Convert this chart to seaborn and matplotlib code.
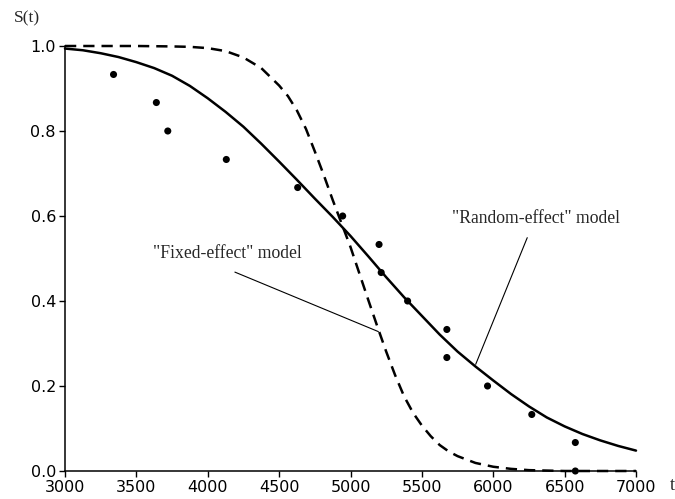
import matplotlib
matplotlib.use("Agg")
import matplotlib.pyplot as plt
import seaborn as sns
import pandas as pd

# Observed (empirical) survival points
obs_t = [3340, 3640, 3720, 4130, 4630, 4945, 5200, 5215, 5400, 5675, 5675, 5960, 6270, 6575, 6575]
obs_s = [0.933, 0.867, 0.800, 0.733, 0.667, 0.600, 0.533, 0.467, 0.400, 0.333, 0.267, 0.200, 0.133, 0.067, 0.000]

# "Random-effect" model curve
rand_t = [3000, 3125, 3250, 3375, 3500, 3625, 3750, 3875, 4000, 4125, 4250, 4375, 4500,
          4625, 4750, 4875, 5000, 5125, 5250, 5375, 5500, 5625, 5750, 5875, 6000,
          6125, 6250, 6375, 6500, 6625, 6750, 6875, 7000]
rand_s = [0.994, 0.990, 0.983, 0.974, 0.962, 0.948, 0.930, 0.906, 0.877, 0.845, 0.810, 0.770, 0.728,
          0.685, 0.641, 0.598, 0.553, 0.505, 0.456, 0.409, 0.365, 0.321, 0.281, 0.246, 0.213,
          0.181, 0.152, 0.126, 0.105, 0.087, 0.072, 0.059, 0.048]

# "Fixed-effect" model curve
fix_t = [3000, 3500, 3750, 3875, 4000, 4125, 4250, 4375, 4500, 4562, 4625, 4688, 4750, 4812,
         4875, 4938, 5000, 5062, 5125, 5188, 5250, 5312, 5375, 5438, 5500, 5562, 5625, 5688,
         5750, 5875, 6000, 6125, 6250, 6375, 6500, 7000]
fix_s = [1.000, 1.000, 0.999, 0.998, 0.995, 0.988, 0.973, 0.948, 0.907, 0.882, 0.848, 0.805, 0.752, 0.697,
         0.638, 0.582, 0.527, 0.465, 0.402, 0.340, 0.281, 0.226, 0.176, 0.137, 0.107, 0.082, 0.061, 0.046,
         0.035, 0.019, 0.010, 0.005, 0.002, 0.001, 0.000, 0.000]

x_ticks = [3000, 3500, 4000, 4500, 5000, 5500, 6000, 6500, 7000]
y_ticks = [0.0, 0.2, 0.4, 0.6, 0.8, 1.0]
y_tick_labels = ["0.0", "0.2", "0.4", "0.6", "0.8", "1.0"]

sns.set_style("ticks")
plt.rcParams["font.family"] = ["DejaVu Sans"]

fig = plt.figure(figsize=(6.75, 4.99), dpi=100)
ax = fig.add_axes([65 / 675, 28 / 499, (636 - 65) / 675, (471 - 46) / 499])

df_rand = pd.DataFrame({"t": rand_t, "S": rand_s})
df_fix = pd.DataFrame({"t": fix_t, "S": fix_s})
df_obs = pd.DataFrame({"t": obs_t, "S": obs_s})

sns.lineplot(data=df_fix, x="t", y="S", ax=ax, color="black", lw=1.8,
             linestyle=(0, (4.5, 2.8)), clip_on=False)
sns.lineplot(data=df_rand, x="t", y="S", ax=ax, color="black", lw=1.8, clip_on=False)
sns.scatterplot(data=df_obs, x="t", y="S", ax=ax, color="black", s=26,
                edgecolor="none", zorder=5, clip_on=False)

ax.set_xlim(3000, 7000)
ax.set_ylim(0, 1.0)
ax.set_xticks(x_ticks)
ax.set_xticklabels([str(v) for v in x_ticks])
ax.set_yticks(y_ticks)
ax.set_yticklabels(y_tick_labels)
ax.set_xlabel("")
ax.set_ylabel("")
ax.tick_params(axis="both", direction="out", length=4, width=1.0, labelsize=11.5,
               colors="black", pad=2.5)
for side in ["top", "right"]:
    ax.spines[side].set_visible(False)
for side in ["left", "bottom"]:
    ax.spines[side].set_linewidth(1.1)
    ax.spines[side].set_color("black")

serif = ["Liberation Serif", "DejaVu Serif"]
fig.text(14 / 675, 1 - 18 / 499, "S(t)", family=serif, fontsize=12.5, ha="left", va="center")
fig.text(672 / 675, 1 - 485 / 499, "t", family=serif, fontsize=13, ha="center", va="center")

ax.annotate('"Fixed-effect" model', xy=(5195, 0.328), xytext=(4138, 0.512),
            family=serif, fontsize=12.7, ha="center", va="center",
            arrowprops=dict(arrowstyle="-", lw=0.8, color="black",
                            shrinkA=0, shrinkB=0, relpos=(0.55, -0.6)))
ax.annotate('"Random-effect" model', xy=(5877, 0.251), xytext=(6297, 0.593),
            family=serif, fontsize=12.7, ha="center", va="center",
            arrowprops=dict(arrowstyle="-", lw=0.8, color="black",
                            shrinkA=0, shrinkB=0, relpos=(0.45, -0.6)))

fig.savefig("out.png", dpi=100)
